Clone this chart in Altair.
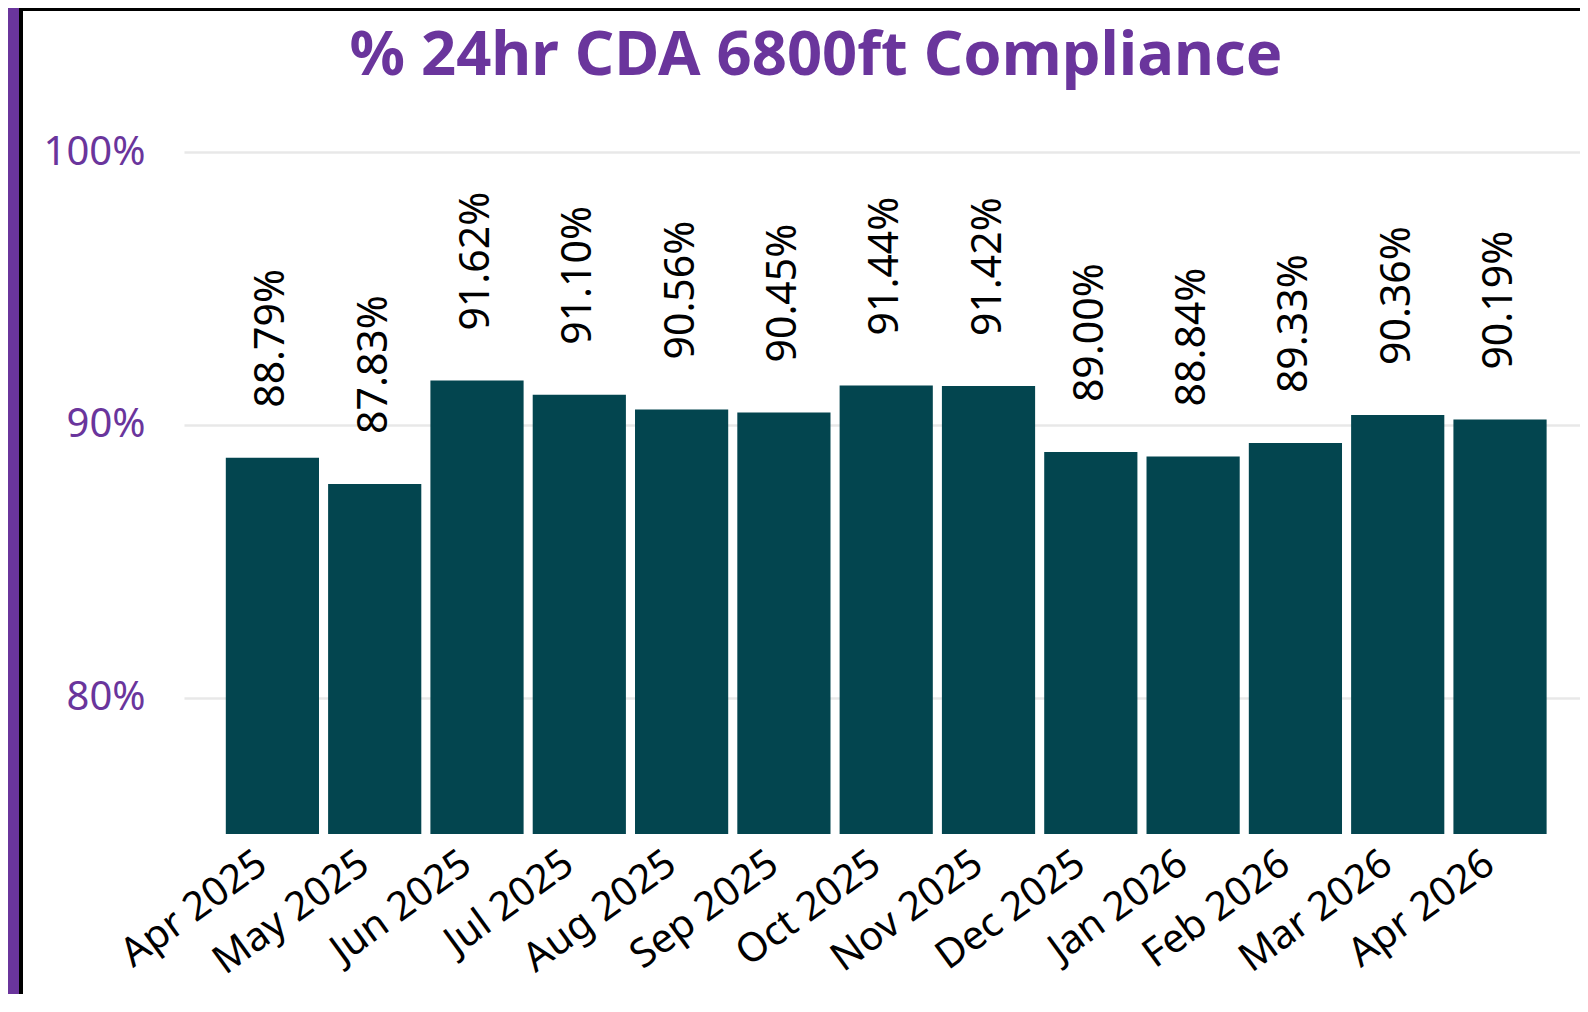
import altair as alt
import pandas as pd

months = ["Apr 2025", "May 2025", "Jun 2025", "Jul 2025", "Aug 2025", "Sep 2025",
          "Oct 2025", "Nov 2025", "Dec 2025", "Jan 2026", "Feb 2026", "Mar 2026", "Apr 2026"]
values = [88.79, 87.83, 91.62, 91.10, 90.56, 90.45, 91.44, 91.42, 89.00, 88.84, 89.33, 90.36, 90.19]
y_ticks = [80, 90, 100]
y_min, y_max = 75, 100

TITLE = "% 24hr CDA 6800ft Compliance"
PURPLE = "#6A359C"
BAR = "#03454F"

df = pd.DataFrame({"month": months, "value": values})
df["label"] = [f"{v:.2f}%" for v in values]
title_df = pd.DataFrame({"t": [TITLE]})

W, H = 1396, 682

x = alt.X("month:N", sort=months, title=None,
          scale=alt.Scale(paddingInner=0.089, paddingOuter=0.3675, align=0.556),
          axis=alt.Axis(labelAngle=324, labelAlign="right", labelBaseline="middle",
                        labelFont="Noto Sans", labelFontSize=40, labelColor="#000000",
                        labelPadding=25, labelOffset=-10, labelLimit=400, ticks=False,
                        domain=False, grid=False, labelOverlap=False))
y = alt.Y("value:Q", title=None,
          scale=alt.Scale(domain=[y_min, y_max], zero=False, nice=False),
          axis=alt.Axis(values=y_ticks, labelExpr="datum.value + '%'",
                        labelFont="Noto Sans", labelFontSize=40, labelColor=PURPLE,
                        labelPadding=39, ticks=False, domain=False,
                        grid=True, gridColor="#E8E8E8", gridWidth=2.5))

bars = alt.Chart(df).mark_bar(color=BAR).encode(x=x, y=y, y2=alt.datum(y_min))

labels = alt.Chart(df).mark_text(angle=270, align="left", baseline="middle",
                                 dx=50, font="Noto Sans", fontSize=41, color="#000000").encode(
    x=alt.X("month:N", sort=months), y="value:Q", text="label:N")

title = alt.Chart(title_df).mark_text(align="center", baseline="alphabetic",
                                      font="Noto Sans", fontWeight="bold", fontSize=61.5,
                                      color=PURPLE).encode(
    x=alt.value(632), y=alt.value(-77), text="t:N")

frame_purple = alt.Chart(title_df).mark_rule(color="#6A359C", strokeWidth=11).encode(
    x=alt.value(-170.5), y=alt.value(-144), y2=alt.value(H + 160))
frame_black = alt.Chart(title_df).mark_rule(color="#000000", strokeWidth=4).encode(
    x=alt.value(-163), y=alt.value(-144), y2=alt.value(H + 160))
frame_top = alt.Chart(title_df).mark_rule(color="#000000", strokeWidth=3).encode(
    x=alt.value(-165), x2=alt.value(W), y=alt.value(-142.5))

chart = alt.layer(bars, labels, title, frame_purple, frame_black, frame_top).properties(
    width=W, height=H,
    background="#FFFFFF",
    autosize=alt.AutoSizeParams(type="none"),
    padding={"left": 176, "top": 144, "right": 0, "bottom": 160},
).configure_view(stroke="transparent")

chart.save("out.html", embed_options={"renderer": "svg", "actions": False})
